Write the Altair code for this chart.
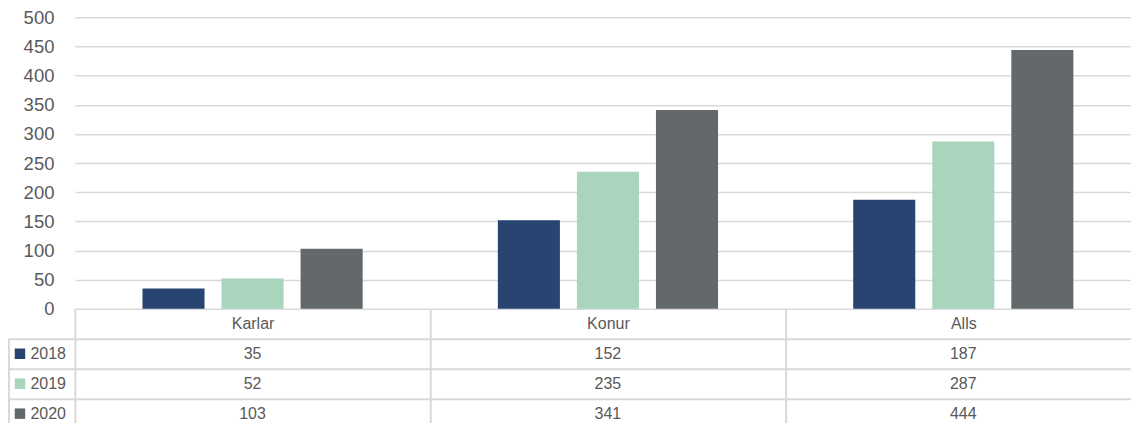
import altair as alt
import pandas as pd

categories = ["Karlar", "Konur", "Alls"]
years = ["2018", "2019", "2020"]
v2018 = [35, 152, 187]
v2019 = [52, 235, 287]
v2020 = [103, 341, 444]
colors = ["#274570", "#a8d5bc", "#63686b"]

rows = []
for yr, vals in zip(years, [v2018, v2019, v2020]):
    for c, v in zip(categories, vals):
        rows.append({"cat": c, "year": yr, "value": v})
df = pd.DataFrame(rows)
ydf = pd.DataFrame({"year": years})

FONT = "Liberation Sans"
TXT = "#595959"
GRID = "#d9d9d9"
W = 1068
TH = 90

color_enc = alt.Color("year:N", scale=alt.Scale(domain=years, range=colors), legend=None)

bars = alt.Chart(df).mark_bar().encode(
    x=alt.X("cat:N", sort=categories, scale=alt.Scale(paddingInner=0, paddingOuter=0), axis=None),
    xOffset=alt.XOffset("year:N", sort=years,
                        scale=alt.Scale(paddingInner=0.215, paddingOuter=0.855)),
    y=alt.Y("value:Q", scale=alt.Scale(domain=[0, 500], nice=False),
            axis=alt.Axis(values=list(range(0, 501, 50)), title=None, domain=False,
                          ticks=False, tickSize=0, labelPadding=21, labelFontSize=18.5,
                          labelColor=TXT, labelFont=FONT, gridColor=GRID, gridWidth=1.5)),
    color=color_enc,
).properties(width=W, height=292)

x_tab = alt.X("cat:N", sort=categories, scale=alt.Scale(paddingInner=0, paddingOuter=0),
              axis=alt.Axis(orient="top", title=None, tickBand="extent", grid=True,
                            domain=False, tickSize=30, tickColor=GRID, tickWidth=2,
                            gridColor=GRID, gridWidth=2, labelPadding=-15, labelAngle=0,
                            labelAlign="center", labelBaseline="middle", labelFontSize=16,
                            labelColor=TXT, labelFont=FONT))
y_tab = alt.Y("year:N", sort=years, scale=alt.Scale(paddingInner=0, paddingOuter=0),
              axis=alt.Axis(title=None, tickBand="extent", grid=True, domain=False,
                            tickSize=66, tickColor=GRID, tickWidth=2, gridColor=GRID,
                            gridWidth=2, labelAlign="left", labelPadding=-21,
                            labelFontSize=16, labelColor=TXT, labelFont=FONT))

cells = alt.Chart(df).mark_text(fontSize=16, color=TXT, font=FONT).encode(
    x=x_tab, y=y_tab, text="value:Q")
keys = alt.Chart(ydf).mark_point(shape="square", filled=True, size=110, opacity=1).encode(
    x=alt.value(-55), y=y_tab, color=color_enc)
border = alt.Chart(ydf).mark_rule(color=GRID, strokeWidth=2).encode(
    x=alt.value(-66), y=alt.value(0), y2=alt.value(TH))

table = alt.layer(cells, keys, border).properties(width=W, height=TH)

chart = alt.vconcat(bars, table, spacing=30, bounds="flush").properties(
    padding={"left": 0, "top": 0, "right": -11, "bottom": -7}
).configure_view(stroke=None)

chart.save("out.html", embed_options={"renderer": "svg", "actions": False})
